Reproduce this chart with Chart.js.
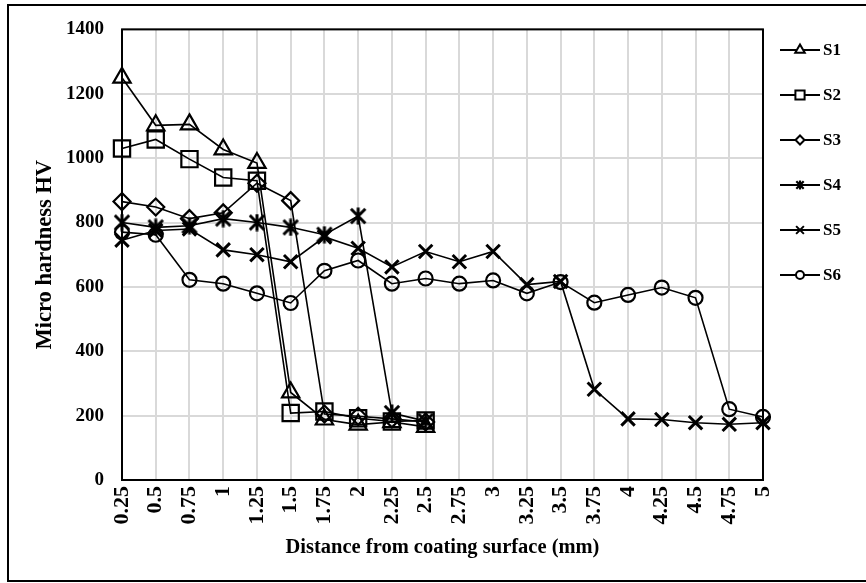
<!DOCTYPE html>
<html>
<head>
<meta charset="utf-8">
<script src="https://cdn.jsdelivr.net/npm/chart.js@4/dist/chart.umd.min.js"></script>
<style>
  html, body { margin: 0; padding: 0; background: #fff; }
  #wrap { position: relative; width: 866px; height: 583px; }
  canvas { display: block; }
</style>
</head>
<body>
<div id="wrap"><canvas id="c" width="866" height="583"></canvas></div>
<script>
// Distance from the coating surface (mm)
const distances = ['0.25','0.5','0.75','1','1.25','1.5','1.75','2','2.25','2.5',
                   '2.75','3','3.25','3.5','3.75','4','4.25','4.5','4.75','5'];

// Micro hardness (HV) for each sample
const s1 = [1250, 1102, 1105, 1027, 985, 272, 188, 172, 180, 165];
const s2 = [1030, 1058, 997, 940, 930, 208, 213, 192, 182, 185];
const s3 = [865, 848, 812, 830, 922, 868, 205, 198, 190, 180];
const s4 = [800, 785, 790, 812, 800, 785, 762, 820, 208, 183];
const s5 = [745, 775, 780, 715, 700, 678, 755, 720, 662, 710,
            678, 710, 607, 617, 282, 190, 188, 178, 173, 178];
const s6 = [770, 762, 622, 610, 580, 550, 650, 682, 610, 626,
            610, 620, 580, 615, 551, 575, 598, 566, 220, 196];

const seriesNames = ['S1', 'S2', 'S3', 'S4', 'S5', 'S6'];

const yTicks = [0, 200, 400, 600, 800, 1000, 1200, 1400];

const FONT = "'Liberation Serif', 'Times New Roman', serif";

// asterisk marker: an X with a vertical stroke
function asterisk(size, lw) {
  const c = document.createElement('canvas');
  c.width = size; c.height = size;
  const g = c.getContext('2d');
  g.strokeStyle = '#000';
  g.lineWidth = lw;
  g.lineCap = 'butt';
  const m = lw * 0.6, h = size / 2;
  g.beginPath();
  g.moveTo(m, m); g.lineTo(size - m, size - m);
  g.moveTo(size - m, m); g.lineTo(m, size - m);
  g.moveTo(h, 0.5); g.lineTo(h, size - 0.5);
  g.stroke();
  return c;
}
const starBig = asterisk(18, 3);
const starSmall = asterisk(10, 2.2);

const markers = [
  { pointStyle: 'triangle', radius: 10, legendRadius: 5.5 },
  { pointStyle: 'rect', radius: 11.5, legendRadius: 6.5 },
  { pointStyle: 'rectRot', radius: 8.5, legendRadius: 4.5 },
  { pointStyle: starBig, radius: 9, legendStyle: starSmall, legendRadius: 5 },
  { pointStyle: 'crossRot', radius: 9.5, legendRadius: 5.5 },
  { pointStyle: 'circle', radius: 7, legendRadius: 4 }
];

const seriesData = [s1, s2, s3, s4, s5, s6];

const datasets = seriesData.map((d, i) => ({
  label: seriesNames[i],
  data: d,
  borderColor: '#000',
  borderWidth: 1.6,
  pointStyle: markers[i].pointStyle,
  pointRadius: markers[i].radius,
  pointHoverRadius: markers[i].radius,
  pointBorderColor: '#000',
  pointBackgroundColor: 'rgba(0,0,0,0)',
  pointBorderWidth: i === 4 ? 3 : 2.2,
  tension: 0,
  fill: false
}));

// black frame around the plot area, under the series
const plotFrame = {
  id: 'plotFrame',
  beforeDatasetsDraw(chart) {
    const { ctx, chartArea: a } = chart;
    ctx.save();
    ctx.strokeStyle = '#000';
    ctx.lineWidth = 2;
    ctx.strokeRect(a.left, a.top, a.right - a.left, a.bottom - a.top);
    ctx.restore();
  }
};

// outer frame of the figure and the series key on the right
const keyAndFrame = {
  id: 'keyAndFrame',
  afterDraw(chart) {
    const ctx = chart.ctx;
    ctx.save();
    ctx.strokeStyle = '#000';
    ctx.lineWidth = 2;
    ctx.beginPath();
    ctx.moveTo(870, 5); ctx.lineTo(8, 5); ctx.lineTo(8, 581); ctx.lineTo(870, 581);
    ctx.stroke();

    const x0 = 780, x1 = 820, top = 50, step = 45;
    ctx.font = 'bold 17px ' + FONT;
    ctx.textBaseline = 'middle';
    ctx.textAlign = 'left';
    seriesNames.forEach((name, i) => {
      const y = top + i * step;
      ctx.strokeStyle = '#000';
      ctx.lineWidth = 2;
      ctx.beginPath();
      ctx.moveTo(x0, y); ctx.lineTo(x1, y);
      ctx.stroke();
      ctx.fillStyle = '#fff';
      ctx.lineWidth = 2;
      Chart.helpers.drawPoint(ctx, {
        pointStyle: markers[i].legendStyle || markers[i].pointStyle,
        radius: markers[i].legendRadius,
        rotation: 0,
        borderWidth: 2
      }, (x0 + x1) / 2, y);
      ctx.fillStyle = '#000';
      ctx.fillText(name, x1 + 3, y + 1);
    });
    ctx.restore();
  }
};

new Chart(document.getElementById('c'), {
  type: 'line',
  data: { labels: distances, datasets },
  options: {
    responsive: false,
    animation: false,
    events: [],
    layout: { padding: { top: 25, right: 103, bottom: 0, left: 0 } },
    plugins: {
      legend: { display: false },
      tooltip: { enabled: false }
    },
    scales: {
      x: {
        type: 'category',
        offset: false,
        grid: { color: '#d9d9d9', lineWidth: 2, drawTicks: false },
        border: { display: false },
        ticks: {
          color: '#000',
          font: { family: FONT, size: 22, weight: 'bold' },
          minRotation: 90,
          maxRotation: 90,
          autoSkip: false,
          padding: 6
        },
        title: {
          display: true,
          text: 'Distance from coating surface (mm)',
          color: '#000',
          font: { family: FONT, size: 20.5, weight: 'bold' },
          padding: { top: 0, bottom: 23 }
        },
        afterFit(scale) { scale.height = 103; }
      },
      y: {
        min: 0,
        max: 1400,
        grid: { color: '#d9d9d9', lineWidth: 2, drawTicks: false },
        border: { display: false },
        afterBuildTicks(scale) { scale.ticks = yTicks.map(v => ({ value: v })); },
        ticks: {
          color: '#000',
          font: { family: FONT, size: 19, weight: 'bold' },
          padding: 18,
          callback: (v) => String(v)
        },
        title: {
          display: true,
          text: 'Micro hardness HV',
          color: '#000',
          font: { family: FONT, size: 22.5, weight: 'bold' },
          padding: { top: 32, bottom: 0 }
        },
        afterFit(scale) { scale.width = 122; }
      }
    }
  },
  plugins: [plotFrame, keyAndFrame]
});
</script>
</body>
</html>
